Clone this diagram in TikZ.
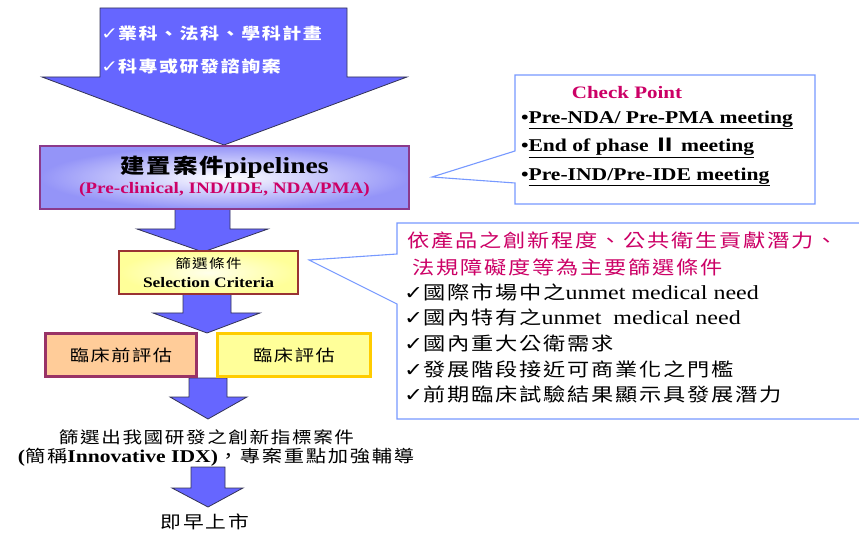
\documentclass[tikz,border=0pt]{standalone}
\usepackage{fontspec}
\setmainfont{Liberation Serif}[FakeStretch=1.2]
\newfontfamily\cjk{Noto Sans CJK TC}[FakeStretch=1.2,LetterSpace=10]
\newfontfamily\sym{DejaVu Sans}[FakeStretch=1.2]
\newcommand\fs[1]{\fontsize{#1}{#1}\selectfont}
\definecolor{arrowblue}{HTML}{6666FF}
\definecolor{arrowline}{HTML}{333355}
\definecolor{magred}{HTML}{CC0066}
\definecolor{calloutblue}{HTML}{7799FF}
\definecolor{pipeborder}{HTML}{8B3A8B}
\definecolor{lav}{HTML}{9494F8}
\definecolor{selborder}{HTML}{993333}
\definecolor{peach}{HTML}{FFCC99}
\definecolor{preborder}{HTML}{993366}
\definecolor{lightyel}{HTML}{FFFF99}
\definecolor{goldborder}{HTML}{FFCC00}
\tikzset{
  barrow/.style={fill=arrowblue, draw=arrowline, line width=0.8pt, line join=miter},
  callout/.style={fill=white, draw=calloutblue, line width=1.1pt},
  txt/.style={inner sep=0pt, outer sep=0pt},
}
\begin{document}
\begin{tikzpicture}[x=1pt,y=-1pt]
\clip (0,0) rectangle (859,534);
\fill[white] (0,0) rectangle (859,534);

% block arrows
\draw[barrow] (100,8) -- (347,8) -- (347,77) -- (407,77) -- (224,145) -- (42,77) -- (100,77) -- cycle;
\draw[barrow] (175,209) -- (230,209) -- (230,229) -- (268,229) -- (203,252) -- (137,229) -- (175,229) -- cycle;
\draw[barrow] (183,294) -- (231,294) -- (231,313) -- (260,313) -- (207,333) -- (153,313) -- (183,313) -- cycle;
\draw[barrow] (189,378) -- (227,378) -- (227,397) -- (247,397) -- (208,419) -- (170,397) -- (189,397) -- cycle;
\draw[barrow] (191,467) -- (225,467) -- (225,488) -- (243,488) -- (208,507) -- (172,488) -- (191,488) -- cycle;

% top arrow text
\node[txt, anchor=west, text=white, font=\bfseries] (top1) at (101,33) {\sym\fs{17}✓\cjk\fs{15.8}業科、法科、學科計畫};
\node[txt, anchor=west, text=white, font=\bfseries] (top2) at (101,66) {\sym\fs{17}✓\cjk\fs{15.8}科專或研發諮詢案};

% pipelines box
\node[draw=pipeborder, line width=1.2pt, inner color=white, outer color=lav, minimum width=369pt, minimum height=63pt] (pipe) at (224.5,177.5) {};
\node[txt, font=\bfseries] (pipe1) at (224.5,167) {\cjk\fs{20.4}建置案件\rmfamily\fs{23}pipelines};
\node[txt, font=\bfseries, text=magred] (pipe2) at (224.5,190) {\fs{16}(Pre-clinical, IND/IDE, NDA/PMA)};

% selection box
\node[draw=selborder, line width=1.1pt, inner color=white!80!lightyel, outer color=lightyel, minimum width=179pt, minimum height=43pt] (sel) at (208.5,272.5) {};
\node[txt] (sel1) at (208.5,264) {\cjk\fs{13}篩選條件};
\node[txt, font=\bfseries] (sel2) at (208.5,283) {\fs{14.5}Selection Criteria};

% evaluation boxes
\node[draw=preborder, line width=3.5pt, fill=peach, minimum width=151pt, minimum height=43pt] (pre) at (121,355) {\cjk\fs{16}臨床前評估};
\node[draw=goldborder, line width=3.5pt, fill=lightyel, minimum width=153pt, minimum height=43pt] (clin) at (294,355) {\cjk\fs{16}臨床評估};

% bottom texts
\node[txt] (res1) at (206.5,437) {\cjk\fs{16.3}篩選出我國研發之創新指標案件};
\node[txt] (res2) at (216,457) {{\bfseries\fs{18}(}\cjk\fs{16.9}簡稱{\rmfamily\bfseries\fs{18}Innovative IDX)}\cjk\fs{16.9}，專案重點加強輔導};
\node[txt] (market) at (205,522) {\cjk\fs{17.3}即早上市};

% check point callout
\draw[callout] (515,75) -- (815,75) -- (815,204) -- (515,204) -- (515,183) -- (432,177) -- (515,151) -- cycle;
\node[txt, text=magred, font=\bfseries] (cp) at (627,93) {\fs{17.5}Check Point};
\node[txt, anchor=west, font=\bfseries] (cp1) at (521,120) {\fs{18}•\underline{Pre-NDA/ Pre-PMA meeting}};
\node[txt, anchor=west, font=\bfseries] (cp2) at (521,148) {\fs{18}•\underline{End of phase {\cjk Ⅱ}\ meeting}};
\node[txt, anchor=west, font=\bfseries] (cp3) at (521,177) {\fs{18}•\underline{Pre-IND/Pre-IDE meeting}};

% criteria callout
\draw[callout] (397,223) -- (870,223) -- (870,419) -- (397,419) -- (397,304) -- (309,260) -- (397,254) -- cycle;
\node[txt, anchor=west, text=magred] (cr1) at (407,240) {\cjk\fs{18.5}依產品之創新程度、公共衛生貢獻潛力、};
\node[txt, anchor=west, text=magred] (cr2) at (412,267) {\cjk\fs{18.5}法規障礙度等為主要篩選條件};
\node[txt, anchor=west] (it1) at (404,292) {\sym\fs{19}✓\cjk\fs{18.5}國際市場中之\rmfamily\fs{20}unmet medical need};
\node[txt, anchor=west] (it2) at (404,317) {\sym\fs{19}✓\cjk\fs{18.5}國內特有之\rmfamily\fs{20}unmet\ \ medical need};
\node[txt, anchor=west] (it3) at (404,343) {\sym\fs{19}✓\cjk\fs{18.5}國內重大公衛需求};
\node[txt, anchor=west] (it4) at (404,369) {\sym\fs{19}✓\cjk\fs{18.5}發展階段接近可商業化之門檻};
\node[txt, anchor=west] (it5) at (404,394) {\sym\fs{19}✓\cjk\fs{18.5}前期臨床試驗結果顯示具發展潛力};
\end{tikzpicture}
\end{document}
